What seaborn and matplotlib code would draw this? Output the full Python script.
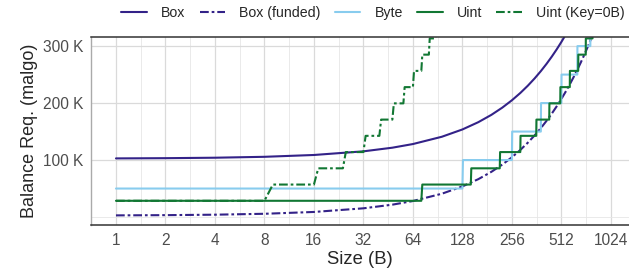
import numpy as np
import pandas as pd
import matplotlib
matplotlib.use("Agg")
import matplotlib.pyplot as plt
from matplotlib.ticker import FuncFormatter, FixedLocator
import seaborn as sns

# values (size in bytes -> balance requirement in microalgo)
box_size = [1, 2, 4, 8, 16, 32, 48, 64, 96, 128, 160, 192, 224, 256, 288, 320,
            352, 384, 416, 448, 480, 512, 544, 576]
box_req = [102900, 103300, 104100, 105700, 108900, 115300, 121700, 128100, 140900,
           153700, 166500, 179300, 192100, 204900, 217700, 230500, 243300, 256100,
           268900, 281700, 294500, 307300, 320100, 332900]

funded_size = [1, 2, 4, 8, 16, 32, 48, 64, 96, 128, 160, 192, 224, 256, 288, 320,
               352, 384, 416, 448, 480, 512, 544, 576, 608, 640, 672, 704, 736,
               768, 800]
funded_req = [2900, 3300, 4100, 5700, 8900, 15300, 21700, 28100, 40900, 53700,
              66500, 79300, 92100, 104900, 117700, 130500, 143300, 156100, 168900,
              181700, 194500, 207300, 220100, 232900, 245700, 258500, 271300,
              284100, 296900, 309700, 322500]

byte_size = [1, 128, 129, 256, 257, 384, 385, 512, 513, 640, 641, 768, 769]
byte_req = [50000, 50000, 100000, 100000, 150000, 150000, 200000, 200000,
            250000, 250000, 300000, 300000, 350000]

uint_size = [1, 72, 73, 144, 145, 216, 217, 288, 289, 360, 361, 432, 433, 504,
             505, 576, 577, 648, 649, 720, 721, 792, 793]
uint_req = [28500, 28500, 57000, 57000, 85500, 85500, 114000, 114000, 142500,
            142500, 171000, 171000, 199500, 199500, 228000, 228000, 256500,
            256500, 285000, 285000, 313500, 313500, 342000]

uint0_size = [1, 8, 9, 16, 17, 24, 25, 32, 33, 40, 41, 48, 49, 56, 57, 64, 65,
              72, 73, 80, 81, 88, 89]
uint0_req = [28500, 28500, 57000, 57000, 85500, 85500, 114000, 114000, 142500,
             142500, 171000, 171000, 199500, 199500, 228000, 228000, 256500,
             256500, 285000, 285000, 313500, 313500, 342000]

series = ["Box", "Box (funded)", "Byte", "Uint", "Uint (Key=0B)"]
x_ticks = [1, 2, 4, 8, 16, 32, 64, 128, 256, 512, 1024]
y_ticks = [100000, 200000, 300000]

frames = []
for name, xs, ys in zip(series,
                        [box_size, funded_size, byte_size, uint_size, uint0_size],
                        [box_req, funded_req, byte_req, uint_req, uint0_req]):
    frames.append(pd.DataFrame({"size": xs, "req": ys, "series": name}))
df = pd.concat(frames, ignore_index=True)

sns.set_style("white")
plt.rcParams["font.family"] = ["Liberation Sans", "DejaVu Sans"]

palette = {"Box": "#332288", "Box (funded)": "#332288", "Byte": "#88CCEE",
           "Uint": "#117733", "Uint (Key=0B)": "#117733"}
dd = (4.2, 1.4, 1.3, 1.4)
dashes = {"Box": "", "Box (funded)": dd, "Byte": "", "Uint": "", "Uint (Key=0B)": dd}

fig = plt.figure(figsize=(6.29, 2.75), dpi=100)
ax = fig.add_axes([0.1447, 0.1818, 0.8553, 0.6837])

sns.lineplot(data=df, x="size", y="req", hue="series", style="series",
             hue_order=series, style_order=series, palette=palette,
             dashes=dashes, estimator=None, sort=False, linewidth=1.5, ax=ax)

ax.set_xscale("log", base=2)
ax.set_xlim(0.705, 1320)
ax.set_ylim(-14000, 316000)

ax.xaxis.set_major_locator(FixedLocator(x_ticks))
ax.xaxis.set_major_formatter(FuncFormatter(lambda v, p: f"{int(v)}"))
ax.xaxis.set_minor_locator(FixedLocator([t * np.sqrt(2) for t in [0.5] + x_ticks]))
ax.xaxis.set_minor_formatter(FuncFormatter(lambda v, p: ""))
ax.yaxis.set_major_locator(FixedLocator(y_ticks))
ax.yaxis.set_major_formatter(FuncFormatter(lambda v, p: f"{int(v / 1000)} K"))
ax.yaxis.set_minor_locator(FixedLocator([0]))

ax.grid(which="major", color="#DADADA", linewidth=0.9)
ax.grid(which="minor", color="#E6E6E6", linewidth=0.6)
ax.set_axisbelow(True)

ax.tick_params(axis="both", which="major", length=3.2, width=0.8, color="#333333",
               labelsize=11.2, labelcolor="#4D4D4D", pad=2.5)
ax.tick_params(axis="both", which="minor", length=0)

for side in ["top", "bottom"]:
    ax.spines[side].set_color("#333333")
    ax.spines[side].set_linewidth(1.1)
ax.spines["left"].set_color("#AAAAAA")
ax.spines["left"].set_linewidth(1.0)
ax.spines["right"].set_visible(False)

ax.set_xlabel("Size (B)", fontsize=13.3, labelpad=2.5)
ax.set_ylabel("Balance Req. (malgo)", fontsize=13.0, labelpad=3.5)

handles, labels = ax.get_legend_handles_labels()
ax.get_legend().remove()
fig.legend(handles, labels, loc="center right", bbox_to_anchor=(0.993, 0.953),
           ncol=5, frameon=False, fontsize=10.2, handlelength=1.8,
           columnspacing=1.0, handletextpad=1.0, borderaxespad=0, borderpad=0)

fig.savefig("out.png", dpi=100)
